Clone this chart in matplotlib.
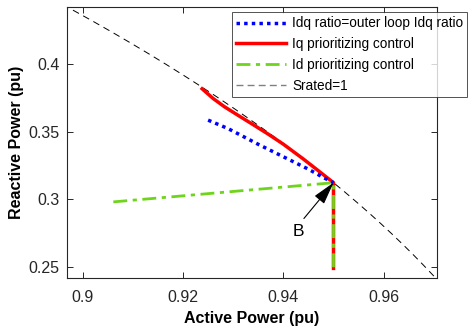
import numpy as np
import matplotlib
matplotlib.use("Agg")
import matplotlib.pyplot as plt
from matplotlib.lines import Line2D

plt.rcParams['font.family'] = ['Liberation Sans', 'DejaVu Sans']

# Idq ratio = outer loop Idq ratio
p_ratio = [0.925, 0.929, 0.935, 0.940, 0.945, 0.948, 0.950]
q_ratio = [0.3585, 0.3522, 0.3406, 0.3314, 0.3222, 0.3160, 0.3122]

# Iq prioritizing control
p_iq = [0.9238, 0.926, 0.9283, 0.931, 0.934, 0.937, 0.940, 0.944, 0.947, 0.950, 0.950]
q_iq = [0.3817, 0.3745, 0.3683, 0.3620, 0.3551, 0.3481, 0.3407, 0.3297, 0.3210, 0.3122, 0.2488]

# Id prioritizing control
p_id = [0.9061, 0.950, 0.950]
q_id = [0.2980, 0.3122, 0.2488]

# Srated = 1 circle
p_circ = np.linspace(0.88, 0.99, 300)
q_circ = np.sqrt(1 - p_circ ** 2)

fig = plt.figure(figsize=(4.73, 3.29), dpi=100)
ax = fig.add_axes([66.7 / 473, 1 - 277.7 / 329, (437.3 - 66.7) / 473, (277.7 - 7.3) / 329])

ax.plot(p_circ, q_circ, color='k', lw=0.7, ls=(0, (7, 5)))
ax.plot(p_iq, q_iq, color='red', lw=2.5)
ax.plot(p_ratio, q_ratio, color='blue', lw=2.5, ls=(0, (1, 1.2)))
ax.plot(p_id, q_id, color='#6fd41c', lw=2.0, ls=(0, (5, 2, 1.5, 2)))

# point B
ax.text(0.9430, 0.2763, 'B', fontsize=12.5, ha='center', va='center')
ax.annotate('', xy=(0.95, 0.3122), xytext=(0.9441, 0.2857),
            arrowprops=dict(arrowstyle='-|>,head_length=1.4,head_width=0.38',
                            color='k', lw=0.8, shrinkA=0, shrinkB=0,
                            mutation_scale=10))

ax.set_xlim(0.8968, 0.9707)
ax.set_ylim(0.2419, 0.442)
ax.set_xticks([0.9, 0.92, 0.94, 0.96])
ax.set_xticklabels(['0.9', '0.92', '0.94', '0.96'])
ax.set_yticks([0.25, 0.3, 0.35, 0.4])
ax.set_yticklabels(['0.25', '0.3', '0.35', '0.4'])
ax.tick_params(direction='in', top=True, right=True, labelsize=11.5,
               colors='#262626', length=4, width=0.7)
ax.tick_params(axis='x', pad=9)
ax.tick_params(axis='y', pad=5)
for s in ax.spines.values():
    s.set_color('#262626')
    s.set_linewidth(0.8)

ax.set_xlabel('Active Power (pu)', fontsize=11.5, fontweight='bold', labelpad=4)
ax.set_ylabel('Reactive Power (pu)', fontsize=11.5, fontweight='bold', labelpad=3)

handles = [
    Line2D([], [], color='blue', lw=2.5, ls=(0, (1, 1.2))),
    Line2D([], [], color='red', lw=2.5),
    Line2D([], [], color='#6fd41c', lw=2.0, ls=(0, (5, 2, 1.5, 2))),
    Line2D([], [], color='gray', lw=1.0, ls=(0, (5, 3))),
]
labels = ['Idq ratio=outer loop Idq ratio', 'Iq prioritizing control',
          'Id prioritizing control', 'Srated=1']
leg = fig.legend(handles, labels, loc='upper left',
                 bbox_to_anchor=(231.7 / 473, 1 - 12.3 / 329),
                 fontsize=9.8, frameon=True, fancybox=False,
                 handlelength=3.7, handletextpad=0.45, labelspacing=0.5,
                 borderpad=0.3, borderaxespad=0)
leg.get_frame().set_edgecolor('#262626')
leg.get_frame().set_linewidth(0.7)

fig.savefig('out.png', dpi=100)
